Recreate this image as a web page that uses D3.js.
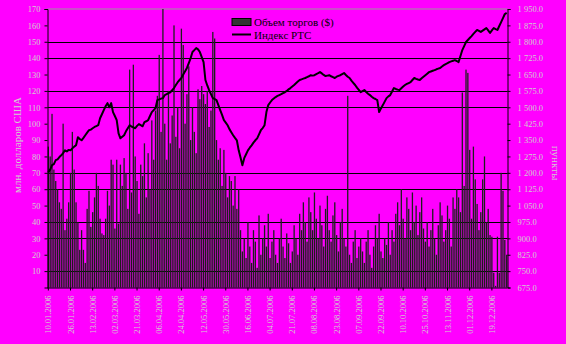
<!DOCTYPE html>
<html><head><meta charset="utf-8">
<script src="https://cdn.jsdelivr.net/npm/d3@7/dist/d3.min.js"></script>
<style>html,body{margin:0;padding:0;background:#ff00ff;}svg{display:block;}</style>
</head><body>
<script>
const volume = [
86,80,106,72,65,60,52,48,100,35,
42,52,70,95,72,52,40,23,35,23,
15,48,59,37,46,55,70,62,42,33,
32,42,59,50,78,75,36,78,39,75,
62,79,70,48,133,58,136,80,65,45,
75,68,88,55,82,60,102,78,108,117,
142,95,170,100,78,120,88,105,160,92,
110,85,158,148,100,118,135,90,110,95,
82,121,115,123,118,112,120,98,108,156,
152,90,78,85,62,84,70,55,68,65,
50,68,48,60,35,22,30,18,40,25,
15,35,28,12,44,20,30,38,25,45,
18,28,35,20,15,30,42,25,18,33,
27,15,22,38,30,20,45,35,52,40,
28,55,46,35,58,42,30,50,38,25,
48,56,35,28,44,52,32,22,40,48,
30,25,117,20,15,28,35,18,25,30,
22,15,28,35,20,12,25,38,30,45,
22,18,30,26,40,20,35,28,45,52,
38,60,42,30,55,48,35,58,40,50,
32,46,55,36,28,40,25,35,48,30,
20,38,52,44,28,35,50,42,25,55,
48,60,55,46,119,62,133,131,84,42,
86,66,51,35,46,66,80,40,48,32,
31,9,1,31,9,70,59,29,20];

const rts = [
1202,1215,1235,1240,1258,1262,1272,1280,1290,1303,
1298,1305,1303,1312,1320,1326,1363,1355,1349,1360,
1372,1384,1395,1398,1404,1410,1414,1418,1450,1468,
1487,1505,1519,1500,1519,1478,1460,1441,1381,1358,
1365,1372,1390,1404,1418,1412,1408,1404,1415,1423,
1418,1413,1432,1436,1441,1460,1478,1487,1496,1533,
1536,1540,1542,1556,1560,1565,1569,1578,1588,1602,
1615,1625,1634,1650,1665,1680,1702,1725,1753,1762,
1771,1765,1753,1730,1707,1625,1600,1579,1560,1542,
1538,1533,1510,1487,1465,1441,1430,1418,1400,1386,
1372,1360,1349,1303,1270,1235,1267,1285,1303,1315,
1326,1338,1349,1358,1376,1395,1405,1418,1478,1510,
1522,1533,1540,1547,1552,1556,1560,1565,1569,1575,
1582,1588,1595,1602,1610,1618,1625,1628,1631,1634,
1638,1642,1647,1645,1647,1652,1656,1661,1655,1648,
1643,1645,1647,1642,1638,1634,1640,1644,1647,1652,
1657,1648,1640,1634,1622,1612,1602,1590,1580,1569,
1574,1579,1570,1562,1556,1548,1542,1538,1533,1478,
1495,1510,1526,1542,1550,1556,1572,1588,1584,1581,
1579,1587,1595,1602,1607,1611,1615,1625,1634,1630,
1627,1625,1633,1640,1647,1654,1661,1664,1667,1670,
1674,1677,1680,1687,1693,1698,1702,1707,1710,1713,
1716,1712,1707,1735,1762,1780,1799,1808,1817,1826,
1836,1845,1854,1850,1845,1851,1857,1863,1852,1840,
1852,1863,1858,1854,1872,1890,1908,1927,1932];

const dateLabels = ["10.01.2006","26.01.2006","13.02.2006","02.03.2006","21.03.2006","06.04.2006","24.04.2006","12.05.2006","30.05.2006","16.06.2006","04.07.2006","21.07.2006","08.08.2006","23.08.2006","07.09.2006","22.09.2006","10.10.2006","25.10.2006","13.11.2006","01.12.2006","19.12.2006"];
const labelStep = 12;
const leftTicks = [10,20,30,40,50,60,70,80,90,100,110,120,130,140,150,160,170];
const rightTicks = [675,750,825,900,975,1050,1125,1200,1275,1350,1425,1500,1575,1650,1725,1800,1875,1950];
const gridValues = [10,30,40,60,70,110,120,140,150];
const seriesNames = ["Объем торгов ($)", "Индекс РТС"];
const leftTitle = "млн. долларов США";
const rightTitle = "пункты";

const W = 566, H = 344;
const L = 47.5, R = 507.5, T = 9, B = 287.5;
const font = "'Liberation Serif','Times New Roman',serif";
const labelColor = "#cfcfcf";

const svg = d3.select("body").append("svg").attr("width", W).attr("height", H)
  .style("background", "#ff00ff");

const x = d3.scaleBand().domain(d3.range(volume.length)).range([L, R]).paddingInner(0.3).paddingOuter(0.1);
const yL = d3.scaleLinear().domain([0, 170]).range([B, T]);
const yR = d3.scaleLinear().domain([675, 1950]).range([B, T]);

// top border
svg.append("line").attr("x1", L).attr("x2", R).attr("y1", T).attr("y2", T)
  .attr("stroke", "#9a9a9a").attr("stroke-width", 1);

// gridlines
svg.append("g").selectAll("line").data(gridValues).join("line")
  .attr("x1", L).attr("x2", R)
  .attr("y1", d => Math.round(yL(d)) + 0.5).attr("y2", d => Math.round(yL(d)) + 0.5)
  .attr("stroke", "#000").attr("stroke-width", 1);

// bars
svg.append("g").selectAll("rect").data(volume).join("rect")
  .attr("x", (d, i) => x(i))
  .attr("width", Math.max(1, x.bandwidth()))
  .attr("y", d => yL(d))
  .attr("height", d => B - yL(d))
  .attr("fill", "#1e1e1e");

// line
const line = d3.line().x((d, i) => x(i) + x.bandwidth() / 2).y(d => yR(d));
svg.append("path").datum(rts).attr("d", line)
  .attr("fill", "none").attr("stroke", "#000").attr("stroke-width", 2).attr("stroke-linejoin", "round");

// left axis
const gL = svg.append("g").attr("transform", `translate(${L},0)`)
  .call(d3.axisLeft(yL).tickValues(leftTicks).tickSize(3).tickPadding(4).tickFormat(d3.format("d")));
gL.select(".domain").attr("stroke", "#000");
gL.selectAll(".tick line").attr("stroke", "#000");
gL.selectAll("text").attr("fill", labelColor).style("font-family", font).style("font-size", "8.5px");

// right axis
const loc = d3.formatLocale({decimal: ".", thousands: " ", grouping: [3], currency: ["", ""]});
const gR = svg.append("g").attr("transform", `translate(${R},0)`)
  .call(d3.axisRight(yR).tickValues(rightTicks).tickSize(3).tickPadding(7).tickFormat(loc.format(",.1f")));
gR.select(".domain").attr("stroke", "#000");
gR.selectAll(".tick line").attr("stroke", "#000");
gR.selectAll("text").attr("fill", labelColor).style("font-family", font).style("font-size", "8.5px");

// bottom axis
svg.append("line").attr("x1", L).attr("x2", R).attr("y1", B + 0.5).attr("y2", B + 0.5)
  .attr("stroke", "#000").attr("stroke-width", 1.2);
const gB = svg.append("g");
dateLabels.forEach((lab, k) => {
  const cx = x(k * labelStep) + x.bandwidth() / 2;
  gB.append("line").attr("x1", cx).attr("x2", cx).attr("y1", B).attr("y2", B + 3).attr("stroke", "#000");
  gB.append("text").attr("transform", `translate(${cx + 3},${B + 8}) rotate(-90)`)
    .attr("text-anchor", "end").attr("fill", labelColor)
    .style("font-family", font).style("font-size", "8.5px").text(lab);
});

// axis titles
svg.append("text").attr("transform", `translate(21,145) rotate(-90)`).attr("text-anchor", "middle")
  .attr("fill", labelColor).style("font-family", font).style("font-size", "11px").text(leftTitle);
svg.append("text").attr("transform", `translate(552,163) rotate(90)`).attr("text-anchor", "middle")
  .attr("fill", labelColor).style("font-family", font).style("font-size", "11px").text(rightTitle);

// legend
const lg = svg.append("g");
lg.append("rect").attr("x", 232).attr("y", 18.5).attr("width", 19).attr("height", 7)
  .attr("fill", "#333").attr("stroke", "#000");
lg.append("text").attr("x", 254).attr("y", 26).style("font-family", font).style("font-size", "11px")
  .attr("fill", "#000").text(seriesNames[0]);
lg.append("line").attr("x1", 232).attr("x2", 251).attr("y1", 34.5).attr("y2", 34.5)
  .attr("stroke", "#000").attr("stroke-width", 2);
lg.append("text").attr("x", 254).attr("y", 38.5).style("font-family", font).style("font-size", "11px")
  .attr("fill", "#000").text(seriesNames[1]);
</script>
</body></html>
